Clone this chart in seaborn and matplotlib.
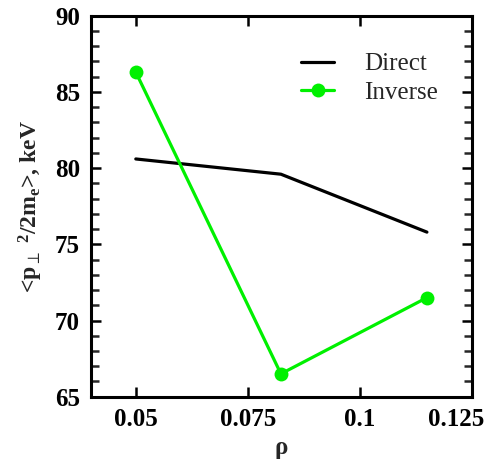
import matplotlib
matplotlib.use('Agg')
import matplotlib.pyplot as plt
import matplotlib.transforms as mtransforms
import seaborn as sns
from matplotlib.ticker import MultipleLocator

# data
rho = [0.05, 0.0824, 0.115]
direct = [80.6, 79.6, 75.8]
inverse = [86.3, 66.5, 71.5]
xticks = [0.05, 0.075, 0.1, 0.125]
xticklabels = ['0.05', '0.075', '0.1', '0.125']

sns.set_style('ticks')
plt.rcParams['font.family'] = ['Liberation Serif', 'DejaVu Serif']
plt.rcParams['mathtext.fontset'] = 'custom'
plt.rcParams['mathtext.rm'] = 'Liberation Serif:bold'
plt.rcParams['mathtext.it'] = 'Liberation Serif:bold'
plt.rcParams['mathtext.bf'] = 'Liberation Serif:bold'
plt.rcParams['mathtext.fallback'] = 'stix'

fig = plt.figure(figsize=(4.93, 4.59), dpi=100)
ax = fig.add_axes([0.1846, 0.1357, 0.7722, 0.8301])

sns.lineplot(x=rho, y=direct, ax=ax, color='black', linewidth=2.3, label='Direct')
sns.lineplot(x=rho, y=inverse, ax=ax, color='#00f000', linewidth=2.3,
             marker='o', markersize=10, markeredgewidth=0, label='Inverse')

ax.set_xlim(0.04, 0.125)
ax.set_ylim(65, 90)
ax.set_xticks(xticks)
ax.set_xticklabels(xticklabels)
ax.yaxis.set_major_locator(MultipleLocator(5))
ax.yaxis.set_minor_locator(MultipleLocator(1))

for s in ax.spines.values():
    s.set_linewidth(2.2)
    s.set_color('black')
ax.tick_params(axis='both', which='major', direction='in', length=7, width=1.8,
               top=True, right=True, labelsize=18, pad=8, colors='black')
ax.tick_params(axis='y', which='minor', direction='in', length=6, width=1.8,
               left=True, right=True)
for lab in ax.get_xticklabels() + ax.get_yticklabels():
    lab.set_fontweight('bold')

# last x label is pulled left so it stays inside the picture
last = ax.get_xticklabels()[-1]
last.set_transform(last.get_transform() +
                   mtransforms.ScaledTranslation(-16 / 100, 0, fig.dpi_scale_trans))

ax.set_xlabel('ρ', fontsize=18, fontweight='bold', labelpad=4)
ax.set_ylabel(r'<p$_{\perp}$ $^{2}$/2m$_{e}$>, keV', fontsize=17,
              fontweight='bold', labelpad=7)

leg = ax.legend(loc='upper left', bbox_to_anchor=(0.52, 0.935), frameon=False,
                fontsize=18, handlelength=1.3, handletextpad=1.2,
                labelspacing=0.25, borderpad=0)

fig.savefig('out.png', dpi=100)
